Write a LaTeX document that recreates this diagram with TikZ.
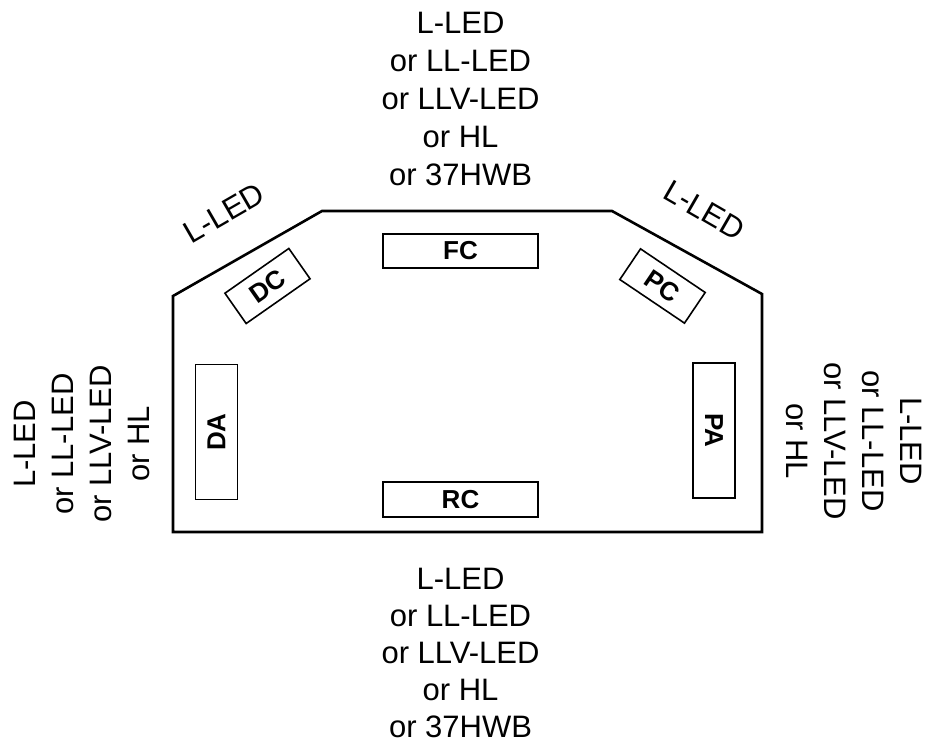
\documentclass[tikz,border=0pt]{standalone}
\usepackage{fontspec}
\setmainfont{Liberation Sans}
\tikzset{
  lamp/.style={draw, line width=1.6pt, inner sep=0pt, font=\fontsize{26}{30}\selectfont\bfseries},
  note/.style={inner sep=0pt, align=center, font=\fontsize{31}{38}\selectfont},
}
\begin{document}
\begin{tikzpicture}[x=1pt,y=1pt]
        \useasboundingbox (0,0) rectangle (928,748);
        % outline
        \coordinate (dl) at (173,216);
        \coordinate (ml) at (173,452);
        \coordinate (tl) at (322,537);
        \coordinate (tr) at (612,537);
        \coordinate (mr) at (762,454);
        \coordinate (dr) at (762,216);
        \draw[line width=2.6pt, line join=miter] (dl) -- (ml) -- (tl) -- (tr) -- (mr) -- (dr) -- cycle;
        % lamps
        \node[lamp, minimum width=155pt, minimum height=34pt] (FC) at (460.5,497) {FC};
        \node[lamp, minimum width=155pt, minimum height=35pt] (RC) at (460.5,248.5) {RC};
        \node[lamp, minimum width=78pt, minimum height=37pt, rotate=35] (DC) at (267.5,462) {DC};
        \node[lamp, minimum width=78pt, minimum height=37pt, rotate=-34] (PC) at (662.5,462) {PC};
        \node[lamp, minimum width=135pt, minimum height=42pt, rotate=90] (DA) at (216.5,316) {DA};
        \node[lamp, minimum width=135pt, minimum height=42pt, rotate=-90] (PA) at (714,317.5) {PA};
        % labels
        \node[note, anchor=south] (top) at (460.5,562) {L-LED\\or LL-LED\\or LLV-LED\\or HL\\or 37HWB};
        \node[note, anchor=north, font=\fontsize{31}{37}\selectfont] (bottom) at (460.5,180) {L-LED\\or LL-LED\\or LLV-LED\\or HL\\or 37HWB};
        \node[note, rotate=90] (left) at (81.5,304) {L-LED\\or LL-LED\\or LLV-LED\\or HL};
        \node[note, rotate=-90] (right) at (854,307) {L-LED\\or LL-LED\\or LLV-LED\\or HL};
        \node[note, rotate=30] (dlabel) at (224,535) {L-LED};
        \node[note, rotate=-30] (plabel) at (704.5,538) {L-LED};
\end{tikzpicture}
\end{document}
